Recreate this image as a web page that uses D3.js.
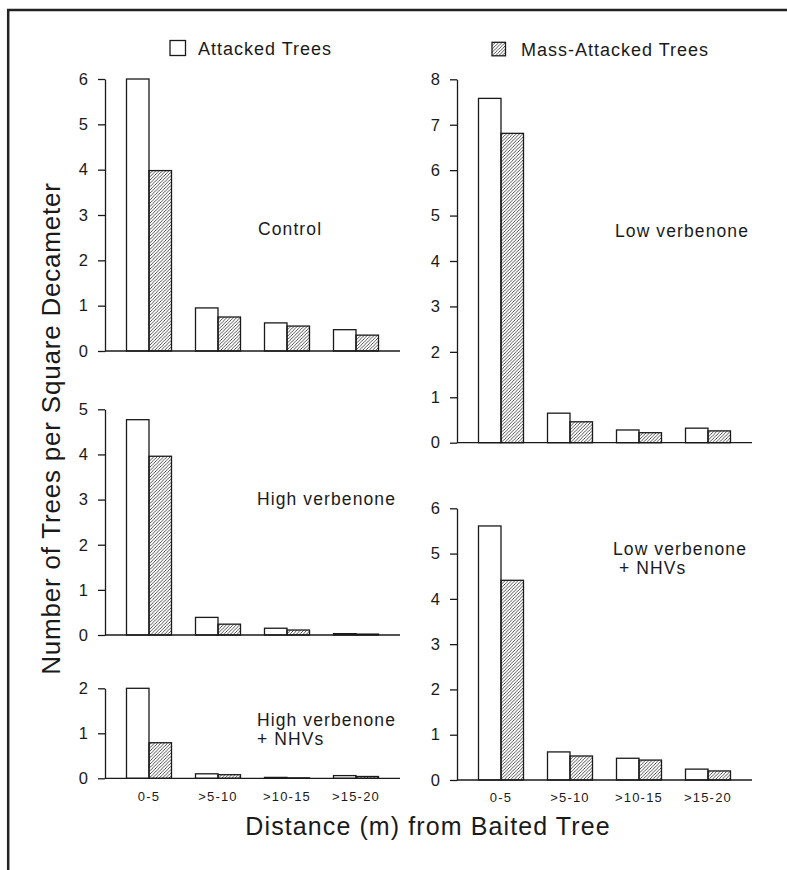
<!DOCTYPE html>
<html>
<head>
<meta charset="utf-8">
<script src="https://cdn.jsdelivr.net/npm/d3@7"></script>
<style>
  body { margin: 0; background: #fff; }
  text { font-family: "Liberation Sans", Arial, Helvetica, sans-serif; fill: #1a1a1a; }
</style>
</head>
<body>
<svg width="787" height="870"></svg>
<script>
// Data
var categories = ["0-5", ">5-10", ">10-15", ">15-20"];

var controlAttacked = [6.0, 0.95, 0.62, 0.47];
var controlMass = [3.98, 0.75, 0.55, 0.35];

var highAttacked = [4.77, 0.39, 0.15, 0.03];
var highMass = [3.96, 0.24, 0.11, 0.02];

var highNhvAttacked = [2.0, 0.1, 0.02, 0.06];
var highNhvMass = [0.79, 0.08, 0.01, 0.04];

var lowAttacked = [7.58, 0.65, 0.28, 0.32];
var lowMass = [6.81, 0.46, 0.22, 0.26];

var lowNhvAttacked = [5.61, 0.62, 0.48, 0.24];
var lowNhvMass = [4.41, 0.53, 0.44, 0.2];

var legendLabels = ["Attacked Trees", "Mass-Attacked Trees"];

// The svg
var svg = d3.select("svg");
var ink = "#1a1a1a";

// hatch pattern
var s = 3.3;
svg
  .append("defs")
  .append("pattern")
  .attr("id", "hatch")
  .attr("patternUnits", "userSpaceOnUse")
  .attr("width", s)
  .attr("height", s)
  .append("path")
  .attr("d", "M0," + s + "L" + s + ",0M-1,1L1,-1M" + (s - 1) + "," + (s + 1) + "L" + (s + 1) + "," + (s - 1))
  .attr("stroke", ink)
  .attr("stroke-width", 0.75);

// frame (top and left edge only, rest is cropped)
svg.append("line").attr("x1", 7).attr("x2", 787).attr("y1", 10).attr("y2", 10)
  .attr("stroke", "#222").attr("stroke-width", 2.5);
svg.append("line").attr("x1", 8.2).attr("x2", 8.2).attr("y1", 9).attr("y2", 870)
  .attr("stroke", "#222").attr("stroke-width", 2.5);

// panels: axis position, baseline, top tick
var panels = [
  { a: controlAttacked, m: controlMass, max: 6, x0: 105, y0: 351, y1: 79, label: ["Control"], lx: 258, ly: 235, ticks: false },
  { a: highAttacked, m: highMass, max: 5, x0: 105, y0: 635, y1: 409.3, label: ["High verbenone"], lx: 257, ly: 505, ticks: false },
  { a: highNhvAttacked, m: highNhvMass, max: 2, x0: 105, y0: 778.3, y1: 688.3, label: ["High verbenone", "+ NHVs"], lx: 257, ly: 726, ticks: true, ty: 801 },
  { a: lowAttacked, m: lowMass, max: 8, x0: 457, y0: 442.7, y1: 79.3, label: ["Low verbenone"], lx: 615, ly: 237, ticks: false },
  { a: lowNhvAttacked, m: lowNhvMass, max: 6, x0: 457, y0: 780, y1: 508.3, label: ["Low verbenone", " + NHVs"], lx: 613, ly: 555, ticks: true, ty: 802 }
];

var barW = 22.5;

panels.forEach(function (p) {
  var g = svg.append("g");

  var x = d3.scalePoint().domain(categories).range([p.x0 + 44, p.x0 + 251]);
  var y = d3.scaleLinear().domain([0, p.max]).range([p.y0, p.y1]);

  // y axis
  var yAxis = g
    .append("g")
    .attr("transform", "translate(" + p.x0 + ",0)")
    .call(d3.axisLeft(y).ticks(p.max).tickSize(7).tickSizeOuter(0).tickPadding(10));
  yAxis.attr("font-size", null).attr("font-family", null);
  yAxis.selectAll("path, line").attr("stroke", ink).attr("stroke-width", 1.3);
  yAxis.selectAll("text")
    .style("font-size", "16.5px")
    .attr("fill", ink);

  // bars
  var rows = categories.map(function (c, i) {
    return { c: c, a: p.a[i], m: p.m[i] };
  });
  g.selectAll(".att")
    .data(rows)
    .enter()
    .append("rect")
    .attr("x", function (d) { return x(d.c) - barW; })
    .attr("y", function (d) { return y(d.a); })
    .attr("width", barW)
    .attr("height", function (d) { return y(0) - y(d.a); })
    .attr("fill", "#fff")
    .attr("stroke", ink)
    .attr("stroke-width", 1.3);
  g.selectAll(".mass")
    .data(rows)
    .enter()
    .append("rect")
    .attr("x", function (d) { return x(d.c); })
    .attr("y", function (d) { return y(d.m); })
    .attr("width", barW)
    .attr("height", function (d) { return y(0) - y(d.m); })
    .attr("fill", "url(#hatch)")
    .attr("stroke", ink)
    .attr("stroke-width", 1.3);

  // baseline
  g.append("line")
    .attr("x1", p.x0).attr("x2", p.x0 + 295)
    .attr("y1", y(0)).attr("y2", y(0))
    .attr("stroke", ink).attr("stroke-width", 1.3);

  // category labels
  if (p.ticks) {
    g.selectAll(".cat")
      .data(categories)
      .enter()
      .append("text")
      .attr("x", function (d) { return x(d); })
      .attr("y", p.ty)
      .attr("text-anchor", "middle")
      .attr("font-size", 13)
      .attr("letter-spacing", 1.2)
      .text(function (d) { return d; });
  }

  // treatment label, one text per line
  p.label.forEach(function (l, i) {
    g.append("text")
      .attr("x", p.lx)
      .attr("y", p.ly + i * 19)
      .attr("font-size", 17.5)
      .attr("letter-spacing", 1.1)
      .attr("xml:space", "preserve")
      .text(l);
  });
});

// legend
svg.append("rect").attr("x", 170).attr("y", 40.5).attr("width", 15.5).attr("height", 15)
  .attr("fill", "#fff").attr("stroke", ink).attr("stroke-width", 1.3);
svg.append("text").attr("x", 198).attr("y", 54.5).attr("font-size", 18).attr("letter-spacing", 1)
  .text(legendLabels[0]);
svg.append("rect").attr("x", 492).attr("y", 42.3).attr("width", 13.5).attr("height", 13.5)
  .attr("fill", "url(#hatch)").attr("stroke", ink).attr("stroke-width", 1.3);
svg.append("text").attr("x", 521).attr("y", 56).attr("font-size", 18).attr("letter-spacing", 1)
  .text(legendLabels[1]);

// axis titles
svg.append("text")
  .attr("x", 428)
  .attr("y", 835)
  .attr("text-anchor", "middle")
  .attr("font-size", 25)
  .attr("letter-spacing", 1.1)
  .text("Distance (m) from Baited Tree");

svg.append("text")
  .attr("transform", "translate(60,428.5) rotate(-90)")
  .attr("text-anchor", "middle")
  .attr("font-size", 26)
  .attr("letter-spacing", 0.8)
  .text("Number of Trees per Square Decameter");
</script>
</body>
</html>
